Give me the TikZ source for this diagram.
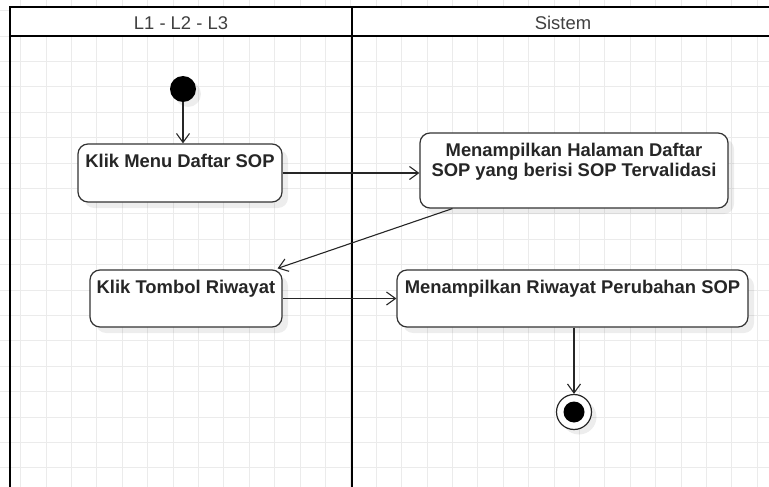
\documentclass[tikz,border=0pt]{standalone}
\usepackage{fontspec}
\setmainfont{Liberation Sans}
\usetikzlibrary{arrows.meta,calc,shadows}
\begin{document}
\begin{tikzpicture}[x=1pt,y=-1pt,
  gridline/.style={draw=black!8, line width=0.9pt},
  poolline/.style={draw=black, line width=2.6pt},
  hdr/.style={font=\fontsize{18.4}{20}\selectfont, text=black!75, inner sep=0pt, anchor=base},
  actbox/.style={draw=black!80, line width=1.2pt, rounded corners=10pt, fill=white, inner sep=0pt,
    drop shadow={shadow xshift=6pt, shadow yshift=-6pt, fill=black, opacity=0.07}},
  acttext/.style={font=\fontsize{18.4}{19.5}\selectfont\bfseries, text=black!85, inner sep=0pt, anchor=north, align=center},
  conn/.style={draw=black!85, line width=1.1pt, -{Straight Barb[length=9pt,width=13pt,line width=1.1pt]}},
]
\useasboundingbox (0,0) rectangle (769,487);
\clip (0,0) rectangle (769,487);
% grid
\foreach \i in {0,...,31} \draw[gridline] (-4.7+25.4*\i,0) -- ++(0,487);
\foreach \j in {0,...,19} \draw[gridline] (0,10.7+25.4*\j) -- ++(769,0);
% pool
\fill[white] (10,7) rectangle (775,36);
\draw[poolline] (775,7) -- (10,7) -- (10,495);
\draw[poolline] (10,36) -- (775,36);
\draw[poolline] (352,7) -- (352,495);
\node[hdr] (h1) at (181,30) {L1 - L2 - L3};
\node[hdr] (h2) at (563,30) {Sistem};
% start
\node[circle, fill=black, minimum size=26pt, inner sep=0pt,
  drop shadow={shadow xshift=5pt, shadow yshift=-5pt, fill=black, opacity=0.07}] (start) at (183,89) {};
% activities
\node[actbox, minimum width=204pt, minimum height=58pt] (n1) at (180,173) {};
\node[acttext] (t1) at ($(n1.north)+(0,10.6)$) {Klik Menu Daftar SOP};
\node[actbox, minimum width=308pt, minimum height=75pt] (n2) at (574,170.5) {};
\node[acttext] (t2) at ($(n2.north)+(0,10.6)$) {Menampilkan Halaman Daftar\\SOP yang berisi SOP Tervalidasi};
\node[actbox, minimum width=192pt, minimum height=57pt] (n3) at (186,298.5) {};
\node[acttext] (t3) at ($(n3.north)+(0,10.6)$) {Klik Tombol Riwayat};
\node[actbox, minimum width=351pt, minimum height=57pt] (n4) at (572.5,298.5) {};
\node[acttext] (t4) at ($(n4.north)+(0,10.6)$) {Menampilkan Riwayat Perubahan SOP};
% end
\node[circle, draw=black!85, line width=1.2pt, fill=white, minimum size=35pt, inner sep=0pt,
  drop shadow={shadow xshift=5pt, shadow yshift=-5pt, fill=black, opacity=0.07}] (end) at (574,412) {};
\node[circle, fill=black, minimum size=21pt, inner sep=0pt] (endin) at (end.center) {};
% connectors
\draw[conn] (start) -- (start |- n1.north);
\draw[conn] (n1.east) -- (n1.east -| n2.west);
\draw[conn] ($(n2.south west)+(33,0)$) coordinate (c2) -- ($(n3.north east)+(-5,-1)$) coordinate (c3);
\draw[conn] (n3.east) -- (n3.east -| n4.west);
\draw[conn] (n4.south -| end) -- (end);
\end{tikzpicture}
\end{document}
